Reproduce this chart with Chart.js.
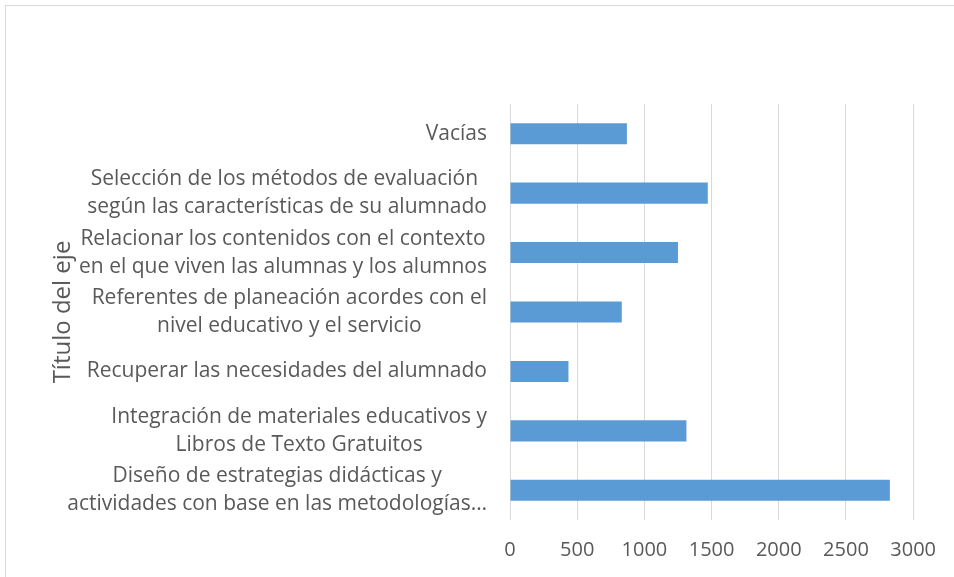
<!doctype html>
<html>

<head>
    <title>Gráfica</title>
    <script src="https://cdn.jsdelivr.net/npm/chart.js"></script>
    <style>
        body { margin: 0; background: #fff; }
        #marco { position: absolute; left: 5px; top: 5px; width: 960px; height: 580px; border: 1px solid #d9d9d9; }
        #caja { position: absolute; left: 0; top: 0; width: 954px; height: 577px; }
    </style>
</head>

<body>
    <div id="marco"></div>
    <div id="caja"><canvas id="grafica"></canvas></div>

    <script>
        // categorias de arriba hacia abajo, cada una partida en lineas
        const categorias = [
            ['Vacías'],
            ['Selección de los métodos de evaluación ', 'según las características de su alumnado'],
            ['Relacionar los contenidos con el contexto', 'en el que viven las alumnas y los alumnos'],
            ['Referentes de planeación acordes con el', 'nivel educativo y el servicio'],
            ['Recuperar las necesidades del alumnado'],
            ['Integración de materiales educativos y', 'Libros de Texto Gratuitos'],
            ['Diseño de estrategias didácticas y', 'actividades con base en las metodologías…']
        ];
        const valores = [870, 1472, 1250, 832, 435, 1313, 2827];
        const ejeMin = 0;
        const ejeMax = 3000;
        const ejePaso = 500;
        const tituloEje = 'Título del eje';

        const fuente = "'Open Sans'";
        const tamano = 21;
        const gris = '#595959';

        Chart.defaults.font.family = fuente;
        Chart.defaults.font.size = tamano;
        Chart.defaults.color = gris;

        // etiquetas de categoria: bloque alineado a la derecha, lineas centradas
        const etiquetasCentradas = {
            id: 'etiquetasCentradas',
            afterDraw(chart) {
                const esc = chart.scales.y;
                const ctx = chart.ctx;
                ctx.save();
                ctx.font = tamano + 'px ' + fuente;
                ctx.fillStyle = gris;
                ctx.textAlign = 'center';
                ctx.textBaseline = 'middle';
                const derecha = esc.right - 23;
                chart.data.labels.forEach((lineas, i) => {
                    const y = esc.getPixelForTick(i);
                    const ancho = Math.max(...lineas.map(l => ctx.measureText(l).width));
                    const cx = derecha - ancho / 2;
                    lineas.forEach((l, j) => {
                        ctx.fillText(l, cx, y + (j - (lineas.length - 1) / 2) * 28);
                    });
                });
                ctx.restore();
            }
        };

        var grafica = new Chart(document.getElementById('grafica').getContext('2d'), {
            type: 'bar',
            data: {
                labels: categorias,
                datasets: [{
                    data: valores,
                    backgroundColor: '#5b9bd5',
                    borderWidth: 0,
                    barPercentage: 0.354,
                    categoryPercentage: 1
                }]
            },
            options: {
                indexAxis: 'y',
                responsive: true,
                maintainAspectRatio: false,
                animation: false,
                layout: {
                    padding: { top: 104, right: 39, bottom: 0, left: 49 }
                },
                plugins: {
                    legend: { display: false },
                    tooltip: { enabled: false }
                },
                scales: {
                    x: {
                        min: ejeMin,
                        max: ejeMax,
                        ticks: {
                            stepSize: ejePaso,
                            padding: 18,
                            color: gris,
                            font: { size: 20 },
                            callback: (v) => String(v)
                        },
                        grid: { color: '#d9d9d9', lineWidth: 1, drawTicks: false },
                        border: { display: false },
                        afterFit: (s) => { s.height = 57; }
                    },
                    y: {
                        ticks: { display: false },
                        grid: { display: false },
                        border: { display: false },
                        title: {
                            display: true,
                            text: tituloEje,
                            color: gris,
                            padding: 0,
                            font: { size: 24 }
                        },
                        afterFit: (s) => { s.width = 510 - 49; }
                    }
                }
            },
            plugins: [etiquetasCentradas]
        });
    </script>
</body>

</html>
